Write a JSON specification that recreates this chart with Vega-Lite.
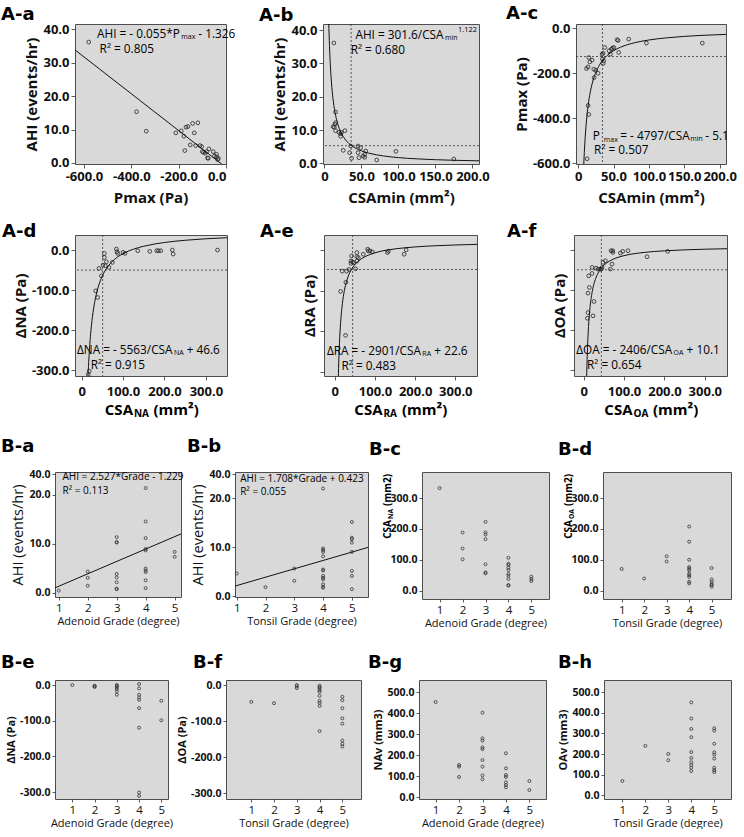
{
"$schema": "https://vega.github.io/schema/vega-lite/v6.json",
"background": "white",
"padding": {"left": 0, "top": 4, "right": 0, "bottom": 0},
"config": {
 "locale": {"number": {"decimal": ".", "thousands": ",", "grouping": [3], "currency": ["$", ""], "minus": "-"}},
 "view": {"fill": "#d9d9d9", "stroke": "#4d4d4d", "strokeWidth": 1},
 "axis": {"grid": false, "domain": false, "tickSize": 4, "tickColor": "#333", "tickWidth": 0.8, "labelFont": "Open Sans", "labelFontWeight": "bold", "labelFontSize": 13, "labelColor": "#111", "titleFont": "Open Sans", "titleFontWeight": "bold", "titleFontSize": 15, "titleColor": "#111", "labelPadding": 2, "titlePadding": 3, "labelOverlap": false},
 "title": {"font": "DejaVu Sans", "fontSize": 18, "fontWeight": "bold", "anchor": "start", "frame": "group", "color": "#000", "baseline": "bottom"},
 "text": {"font": "Open Sans", "fontSize": 11.8, "color": "#000", "baseline": "middle"}
},
"datasets": {
 "aa": [{"x":-580,"y":36.1},{"x":-378,"y":15.3},{"x":-337,"y":9.5},{"x":-212,"y":9.0},{"x":-189,"y":9.6},{"x":-178,"y":8.0},{"x":-174,"y":3.7},{"x":-169,"y":10.7},{"x":-161,"y":10.9},{"x":-151,"y":5.4},{"x":-141,"y":11.8},{"x":-134,"y":9.0},{"x":-128,"y":5.2},{"x":-119,"y":12.0},{"x":-110,"y":5.2},{"x":-103,"y":4.9},{"x":-100,"y":3.4},{"x":-95,"y":3.2},{"x":-88,"y":2.9},{"x":-82,"y":3.4},{"x":-78,"y":1.5},{"x":-75,"y":1.4},{"x":-72,"y":4.2},{"x":-54,"y":3.4},{"x":-49,"y":2.1},{"x":-40,"y":2.6},{"x":-40,"y":1.8},{"x":-35,"y":1.0},{"x":-32,"y":1.4}],
 "aa_fit": [{"x":-638,"y":33.76},{"x":-10,"y":-0.776}],
 "ab": [{"x":12.7,"y":36.1},{"x":15.0,"y":15.4},{"x":15.0,"y":12.2},{"x":14.1,"y":11.7},{"x":11.8,"y":11.0},{"x":13.2,"y":10.8},{"x":15.0,"y":9.8},{"x":19.5,"y":9.3},{"x":21.8,"y":8.9},{"x":23.1,"y":9.3},{"x":21.8,"y":8.1},{"x":27.7,"y":9.8},{"x":25.4,"y":3.9},{"x":34.0,"y":3.2},{"x":35.4,"y":5.2},{"x":36.7,"y":1.5},{"x":45.4,"y":5.2},{"x":49.0,"y":4.7},{"x":45.4,"y":3.2},{"x":46.7,"y":1.7},{"x":52.2,"y":2.2},{"x":54.4,"y":2.7},{"x":55.8,"y":3.7},{"x":54.4,"y":1.8},{"x":70.7,"y":1.0},{"x":96.6,"y":3.6},{"x":175,"y":1.3}],
 "ab_fit": [{"x":5.5,"y":44.5},{"x":6,"y":40.4},{"x":6.5,"y":36.93},{"x":7,"y":33.98},{"x":8,"y":29.25},{"x":9,"y":25.63},{"x":10,"y":22.77},{"x":12,"y":18.56},{"x":15,"y":14.45},{"x":17.5,"y":12.16},{"x":20,"y":10.46},{"x":25,"y":8.15},{"x":30,"y":6.64},{"x":40,"y":4.81},{"x":50,"y":3.74},{"x":60,"y":3.05},{"x":80,"y":2.21},{"x":100,"y":1.72},{"x":125,"y":1.34},{"x":150,"y":1.09},{"x":175,"y":0.92},{"x":209,"y":0.75}],
 "ac": [{"x":12.7,"y":-580.6},{"x":14.1,"y":-343.9},{"x":15.1,"y":-384},{"x":11.8,"y":-180},{"x":14.1,"y":-172.7},{"x":15.1,"y":-131},{"x":16.5,"y":-150.4},{"x":19.8,"y":-142.9},{"x":22.1,"y":-183},{"x":22.6,"y":-220},{"x":24.9,"y":-187.6},{"x":28.2,"y":-201},{"x":33.9,"y":-116},{"x":35.3,"y":-111.7},{"x":34.4,"y":-138},{"x":35.3,"y":-157.8},{"x":36.2,"y":-146},{"x":37.6,"y":-86.3},{"x":43.8,"y":-101},{"x":45.6,"y":-116},{"x":47.1,"y":-93.8},{"x":48.5,"y":-89.3},{"x":50.4,"y":-86.3},{"x":55.1,"y":-52},{"x":56.5,"y":-55},{"x":57.4,"y":-108.7},{"x":71.5,"y":-49},{"x":96.5,"y":-67},{"x":175.5,"y":-67}],
 "ac_fit": [{"x":7.8,"y":-620.1},{"x":8,"y":-604.7},{"x":9,"y":-538.1},{"x":10,"y":-484.8},{"x":11,"y":-441.2},{"x":12,"y":-404.9},{"x":13.5,"y":-360.4},{"x":15,"y":-324.9},{"x":17.5,"y":-279.2},{"x":20,"y":-245.0},{"x":25,"y":-197.0},{"x":30,"y":-165.0},{"x":40,"y":-125.0},{"x":50,"y":-101.0},{"x":60,"y":-85.05},{"x":80,"y":-65.1},{"x":100,"y":-53.1},{"x":125,"y":-43.5},{"x":150,"y":-37.1},{"x":175,"y":-32.5},{"x":209,"y":-28.1}],
 "ad": [{"x":16.1,"y":-310},{"x":18.5,"y":-301.7},{"x":33.9,"y":-101.7},{"x":38.7,"y":-118.3},{"x":41.9,"y":-45.8},{"x":47.6,"y":-64.2},{"x":51.6,"y":-37.5},{"x":54.8,"y":-18.3},{"x":54.8,"y":-8.3},{"x":57.3,"y":-39.2},{"x":59.7,"y":-29.2},{"x":66.1,"y":-43.3},{"x":74.2,"y":-30.8},{"x":83.9,"y":2.5},{"x":85.5,"y":-4.2},{"x":87.1,"y":-8.3},{"x":100,"y":-5.8},{"x":104.8,"y":-8.3},{"x":135.5,"y":-1.7},{"x":164.5,"y":-3.3},{"x":181.5,"y":-1.7},{"x":185.5,"y":-1.7},{"x":191,"y":-1.7},{"x":219,"y":0},{"x":221,"y":-10},{"x":328,"y":0}],
 "ad_fit": [{"x":15,"y":-324.3},{"x":16,"y":-301.1},{"x":18,"y":-262.5},{"x":20,"y":-231.6},{"x":22.5,"y":-200.6},{"x":25,"y":-175.9},{"x":30,"y":-138.8},{"x":35,"y":-112.3},{"x":40,"y":-92.5},{"x":50,"y":-64.7},{"x":60,"y":-46.1},{"x":80,"y":-22.9},{"x":100,"y":-9.0},{"x":125,"y":2.1},{"x":150,"y":9.5},{"x":200,"y":18.8},{"x":250,"y":24.35},{"x":300,"y":28.1},{"x":351,"y":30.75}],
 "ae": [{"x":26.7,"y":-210.5},{"x":14.2,"y":-101.9},{"x":27.5,"y":-79.4},{"x":18.3,"y":-51.8},{"x":29.2,"y":-51.8},{"x":35,"y":-47.6},{"x":40,"y":-32.6},{"x":40,"y":-26.7},{"x":41.7,"y":-14.2},{"x":44.2,"y":-29.2},{"x":47.5,"y":-30.9},{"x":51.7,"y":-46},{"x":55,"y":-26.7},{"x":55,"y":-15.9},{"x":55,"y":-5.8},{"x":58.3,"y":-18.4},{"x":70.8,"y":-10},{"x":81.7,"y":2.5},{"x":83.3,"y":-1.7},{"x":87.5,"y":-1.7},{"x":93.3,"y":-4.2},{"x":130.8,"y":-5.8},{"x":133.3,"y":-2.5},{"x":172.5,"y":-10},{"x":177.5,"y":0.8}],
 "ae_fit": [{"x":8.5,"y":-318.7},{"x":10,"y":-267.5},{"x":12,"y":-219.15},{"x":15,"y":-170.8},{"x":17.5,"y":-143.2},{"x":20,"y":-122.45},{"x":25,"y":-93.44},{"x":30,"y":-74.1},{"x":40,"y":-49.9},{"x":50,"y":-35.4},{"x":60,"y":-25.75},{"x":80,"y":-13.66},{"x":100,"y":-6.41},{"x":150,"y":3.26},{"x":200,"y":8.1},{"x":250,"y":11.0},{"x":300,"y":12.93},{"x":354,"y":14.4}],
 "af": [{"x":9.1,"y":-170},{"x":10.7,"y":-155.8},{"x":23.1,"y":-164},{"x":25.6,"y":-128.3},{"x":10.7,"y":-107.5},{"x":14,"y":-93.3},{"x":12.4,"y":-64.2},{"x":20.7,"y":-58.3},{"x":20.7,"y":-43.3},{"x":30.6,"y":-45},{"x":35.5,"y":-47.5},{"x":41.3,"y":-47.5},{"x":43.8,"y":-47.5},{"x":45.5,"y":-43.3},{"x":47.9,"y":-30.8},{"x":53.7,"y":-26.7},{"x":66.1,"y":-47.5},{"x":70.2,"y":-35},{"x":67.8,"y":-1.7},{"x":72.3,"y":-5.8},{"x":71.9,"y":-1.7},{"x":90.9,"y":-7.5},{"x":96.7,"y":-3.3},{"x":110,"y":-1.7},{"x":157,"y":-16.7},{"x":208,"y":-3.3}],
 "af_fit": [{"x":7.3,"y":-319.5},{"x":8,"y":-290.65},{"x":9,"y":-257.2},{"x":10,"y":-230.5},{"x":12,"y":-190.4},{"x":15,"y":-150.3},{"x":20,"y":-110.2},{"x":25,"y":-86.14},{"x":30,"y":-70.1},{"x":40,"y":-50.05},{"x":50,"y":-38.02},{"x":60,"y":-30.0},{"x":80,"y":-19.98},{"x":100,"y":-13.96},{"x":150,"y":-5.94},{"x":200,"y":-1.93},{"x":250,"y":0.48},{"x":300,"y":2.08},{"x":355,"y":3.32}],
 "ba": [{"g":1,"y":0.4},{"g":2,"y":4.3},{"g":2,"y":3.0},{"g":2,"y":1.4},{"g":3,"y":11.3},{"g":3,"y":10.3},{"g":3,"y":10.2},{"g":3,"y":3.8},{"g":3,"y":3.1},{"g":3,"y":2.1},{"g":3,"y":0.8},{"g":3,"y":0.7},{"g":4,"y":26.3},{"g":4,"y":14.5},{"g":4,"y":11.1},{"g":4,"y":8.9},{"g":4,"y":8.6},{"g":4,"y":4.9},{"g":4,"y":4.5},{"g":4,"y":4.2},{"g":4,"y":2.5},{"g":4,"y":0.9},{"g":5,"y":8.3},{"g":5,"y":7.3}],
 "ba_fit": [{"g":0.87,"y":0.97},{"g":5.22,"y":11.96}],
 "bb": [{"g":1,"y":4.6},{"g":2,"y":1.8},{"g":3,"y":5.6},{"g":3,"y":3.1},{"g":4,"y":28},{"g":4,"y":9.7},{"g":4,"y":9.4},{"g":4,"y":9.0},{"g":4,"y":8.1},{"g":4,"y":5.4},{"g":4,"y":5.2},{"g":4,"y":4.1},{"g":4,"y":3.7},{"g":4,"y":3.4},{"g":4,"y":2.4},{"g":4,"y":1.9},{"g":4,"y":1.7},{"g":5,"y":15.1},{"g":5,"y":11.9},{"g":5,"y":11.6},{"g":5,"y":10.9},{"g":5,"y":9.0},{"g":5,"y":5.1},{"g":5,"y":4.1},{"g":5,"y":1.4}],
 "bb_fit": [{"g":0.94,"y":2.03},{"g":5.56,"y":9.92}],
 "bc": [{"g":1,"y":332},{"g":2,"y":188.6},{"g":2,"y":137},{"g":2,"y":102},{"g":3,"y":223},{"g":3,"y":189},{"g":3,"y":182},{"g":3,"y":167},{"g":3,"y":86},{"g":3,"y":60},{"g":3,"y":57},{"g":4,"y":107},{"g":4,"y":88},{"g":4,"y":84},{"g":4,"y":75},{"g":4,"y":67.5},{"g":4,"y":55},{"g":4,"y":49},{"g":4,"y":38.6},{"g":4,"y":19.3},{"g":4,"y":17},{"g":5,"y":46},{"g":5,"y":38.6},{"g":5,"y":32}],
 "bd": [{"g":1,"y":71},{"g":2,"y":40},{"g":3,"y":112},{"g":3,"y":95},{"g":4,"y":208},{"g":4,"y":159},{"g":4,"y":100.7},{"g":4,"y":77},{"g":4,"y":72},{"g":4,"y":67},{"g":4,"y":56},{"g":4,"y":51},{"g":4,"y":45.6},{"g":4,"y":29.7},{"g":4,"y":24.4},{"g":5,"y":74},{"g":5,"y":37},{"g":5,"y":29.7},{"g":5,"y":22},{"g":5,"y":19},{"g":5,"y":13.8}],
 "be": [{"g":1,"y":0},{"g":2,"y":-1.9},{"g":2,"y":-3.8},{"g":2,"y":-5.6},{"g":3,"y":0},{"g":3,"y":-2.8},{"g":3,"y":-6.6},{"g":3,"y":-11.3},{"g":3,"y":-17.9},{"g":3,"y":-27.3},{"g":4,"y":2.8},{"g":4,"y":-9.4},{"g":4,"y":-27.3},{"g":4,"y":-34.8},{"g":4,"y":-41.4},{"g":4,"y":-64.9},{"g":4,"y":-119.5},{"g":4,"y":-301},{"g":4,"y":-310.4},{"g":5,"y":-44.2},{"g":5,"y":-98.8}],
 "bf": [{"g":1,"y":-46.6},{"g":2,"y":-50.3},{"g":3,"y":0},{"g":3,"y":-3.7},{"g":3,"y":-8.4},{"g":4,"y":-1.9},{"g":4,"y":-5.6},{"g":4,"y":-9.3},{"g":4,"y":-14},{"g":4,"y":-18.6},{"g":4,"y":-29.8},{"g":4,"y":-43.8},{"g":4,"y":-49.4},{"g":4,"y":-57.8},{"g":4,"y":-127.7},{"g":5,"y":-32.6},{"g":5,"y":-42},{"g":5,"y":-64.3},{"g":5,"y":-92.3},{"g":5,"y":-107.2},{"g":5,"y":-153.8},{"g":5,"y":-163},{"g":5,"y":-170.5}],
 "bg": [{"g":1,"y":452.5},{"g":2,"y":153.5},{"g":2,"y":145.6},{"g":2,"y":96.5},{"g":3,"y":402},{"g":3,"y":280},{"g":3,"y":269},{"g":3,"y":237},{"g":3,"y":229},{"g":3,"y":177},{"g":3,"y":145.6},{"g":3,"y":104},{"g":3,"y":85},{"g":4,"y":209},{"g":4,"y":137.7},{"g":4,"y":106},{"g":4,"y":96.5},{"g":4,"y":71},{"g":4,"y":58.5},{"g":4,"y":47.5},{"g":5,"y":77.5},{"g":5,"y":34.8}],
 "bh": [{"g":1,"y":70},{"g":2,"y":240},{"g":3,"y":200.6},{"g":3,"y":170},{"g":4,"y":450.6},{"g":4,"y":372.6},{"g":4,"y":321.7},{"g":4,"y":281.8},{"g":4,"y":210},{"g":4,"y":181.5},{"g":4,"y":160.8},{"g":4,"y":146.5},{"g":4,"y":133.8},{"g":4,"y":117.8},{"g":5,"y":324.8},{"g":5,"y":313.7},{"g":5,"y":250},{"g":5,"y":208.6},{"g":5,"y":197.5},{"g":5,"y":178.3},{"g":5,"y":133.8},{"g":5,"y":122.6},{"g":5,"y":113}]
},
"vconcat": [
 {"vconcat": [
  {"hconcat": [
   {"width": 20, "height": 10, "view": {"stroke": null, "fill": null}, "data": {"values": []}, "mark": {"type": "point"}},
   {"hconcat": [
   {"width": 151, "height": 140, "title": {"text": "A-a", "dx": -74, "offset": -1},
    "resolve": {"axis": {"x": "independent", "y": "independent"}},
    "layer": [
     {"data": {"name": "aa"}, "mark": {"type": "point", "shape": "circle", "filled": false, "size": 14, "color": "#222", "strokeWidth": 0.8, "opacity": 1},
      "encoding": {"x": {"field": "x", "type": "quantitative", "scale": {"domain": [-638, 0], "nice": false, "zero": false}, "axis": {"title": "Pmax (Pa)", "values": [-600, -400, -200, 0], "format": ".1f", "titlePadding": 7, "labelOverlap": false}},
                   "y": {"field": "y", "type": "quantitative", "scale": {"domain": [-0.3, 41.5], "nice": false, "zero": false}, "axis": {"title": "AHI (events/hr)", "values": [0, 10, 20, 30, 40], "format": ".1f", "labelOverlap": false}}}},
     {"data": {"name": "aa_fit"}, "mark": {"type": "line", "color": "#111", "strokeWidth": 1, "clip": true}, "encoding": {"x": {"field": "x", "type": "quantitative", "axis": null}, "y": {"field": "y", "type": "quantitative", "axis": null}}},
     {"data": {"values": [{}]}, "encoding": {"x": {"datum": -195, "axis": null}, "y": {"datum": 38.4, "axis": null}}, "layer": [
       {"mark": {"type": "text", "align": "right", "text": "AHI = - 0.055*P"}},
       {"mark": {"type": "text", "align": "left", "fontSize": 7, "dx": 1.5, "dy": 3, "text": "max"}},
       {"mark": {"type": "text", "align": "left", "dx": 18.5, "text": "- 1.326"}}]},
     {"data": {"values": [{}]}, "mark": {"type": "text", "align": "left", "text": "R² = 0.805"}, "encoding": {"x": {"datum": -534, "axis": null}, "y": {"datum": 34.1, "axis": null}}}
    ]},
   {"width": 156, "height": 140, "title": {"text": "A-b", "dx": -64, "offset": -1},
    "resolve": {"axis": {"x": "independent", "y": "independent"}},
    "layer": [
     {"data": {"name": "ab"}, "mark": {"type": "point", "shape": "circle", "filled": false, "size": 14, "color": "#222", "strokeWidth": 0.8, "opacity": 1},
      "encoding": {"x": {"field": "x", "type": "quantitative", "scale": {"domain": [-2, 209], "nice": false, "zero": false}, "axis": {"title": "CSAmin (mm²)", "values": [0, 50, 100, 150, 200], "labelExpr": "datum.value == 0 ? '0' : format(datum.value, '.1f')", "titlePadding": 7, "labelOverlap": false}},
                   "y": {"field": "y", "type": "quantitative", "scale": {"domain": [-0.2, 41.8], "nice": false, "zero": false}, "axis": {"title": "AHI (events/hr)", "values": [0, 10, 20, 30, 40], "format": ".1f", "labelOverlap": false}}}},
     {"data": {"values": [{}]}, "mark": {"type": "rule", "color": "#333", "strokeWidth": 0.8, "strokeDash": [2, 2]}, "encoding": {"x": {"datum": 36, "axis": null}}},
     {"data": {"values": [{}]}, "mark": {"type": "rule", "color": "#333", "strokeWidth": 0.8, "strokeDash": [2, 2]}, "encoding": {"y": {"datum": 5.3, "axis": null}}},
     {"data": {"name": "ab_fit"}, "mark": {"type": "line", "color": "#111", "strokeWidth": 1, "clip": true, "interpolate": "monotone"}, "encoding": {"x": {"field": "x", "type": "quantitative", "axis": null}, "y": {"field": "y", "type": "quantitative", "axis": null}}},
     {"data": {"values": [{}]}, "encoding": {"x": {"datum": 161, "axis": null}, "y": {"datum": 38.6, "axis": null}}, "layer": [
       {"mark": {"type": "text", "align": "right", "text": "AHI = 301.6/CSA"}},
       {"mark": {"type": "text", "align": "left", "fontSize": 7, "dx": 1.5, "dy": 3, "text": "min"}},
       {"mark": {"type": "text", "align": "left", "fontSize": 7.5, "dx": 14.5, "dy": -5, "text": "1.122"}}]},
     {"data": {"values": [{}]}, "mark": {"type": "text", "align": "left", "text": "R² = 0.680"}, "encoding": {"x": {"datum": 35.4, "axis": null}, "y": {"datum": 34.1, "axis": null}}}
    ]},
   {"width": 150, "height": 140, "title": {"text": "A-c", "dx": -70, "offset": -1},
    "resolve": {"axis": {"x": "independent", "y": "independent"}},
    "layer": [
     {"data": {"name": "ac"}, "mark": {"type": "point", "shape": "circle", "filled": false, "size": 14, "color": "#222", "strokeWidth": 0.8, "opacity": 1},
      "encoding": {"x": {"field": "x", "type": "quantitative", "scale": {"domain": [-3, 209], "nice": false, "zero": false}, "axis": {"title": "CSAmin (mm²)", "values": [0, 50, 100, 150, 200], "labelExpr": "datum.value == 0 ? '0' : format(datum.value, '.1f')", "titlePadding": 7, "labelOverlap": false}},
                   "y": {"field": "y", "type": "quantitative", "scale": {"domain": [-604, 18], "nice": false, "zero": false}, "axis": {"title": "Pmax (Pa)", "values": [0, -200, -400, -600], "format": ".1f", "labelOverlap": false}}}},
     {"data": {"values": [{}]}, "mark": {"type": "rule", "color": "#333", "strokeWidth": 0.8, "strokeDash": [2, 2]}, "encoding": {"x": {"datum": 34.4, "axis": null}}},
     {"data": {"values": [{}]}, "mark": {"type": "rule", "color": "#333", "strokeWidth": 0.8, "strokeDash": [2, 2]}, "encoding": {"y": {"datum": -126.5, "axis": null}}},
     {"data": {"name": "ac_fit"}, "mark": {"type": "line", "color": "#111", "strokeWidth": 1, "clip": true, "interpolate": "monotone"}, "encoding": {"x": {"field": "x", "type": "quantitative", "axis": null}, "y": {"field": "y", "type": "quantitative", "axis": null}}},
     {"data": {"values": [{}]}, "encoding": {"x": {"datum": 30.6, "axis": null}, "y": {"datum": -480.9, "axis": null}}, "layer": [
       {"mark": {"type": "text", "align": "right", "text": "P"}},
       {"mark": {"type": "text", "align": "left", "fontSize": 7, "dx": 4, "dy": 3.5, "text": "max"}},
       {"mark": {"type": "text", "align": "left", "dx": 20.5, "text": "= - 4797/CSA"}},
       {"mark": {"type": "text", "align": "left", "fontSize": 7, "dx": 90.5, "dy": 3, "text": "min"}},
       {"mark": {"type": "text", "align": "left", "dx": 105.5, "text": "- 5.1"}}]},
     {"data": {"values": [{}]}, "mark": {"type": "text", "align": "left", "text": "R² = 0.507"}, "encoding": {"x": {"datum": 22.6, "axis": null}, "y": {"datum": -540.4, "axis": null}}}
    ]}
   ], "spacing": 97, "bounds": "flush"}
  ], "spacing": 0, "bounds": "flush"},
  {"hconcat": [
   {"width": 20, "height": 10, "view": {"stroke": null, "fill": null}, "data": {"values": []}, "mark": {"type": "point"}},
   {"hconcat": [
   {"width": 152, "height": 141, "title": {"text": "A-d", "dx": -73, "offset": -6},
    "resolve": {"axis": {"x": "independent", "y": "independent"}},
    "layer": [
     {"data": {"name": "ad"}, "mark": {"type": "point", "shape": "circle", "filled": false, "size": 14, "color": "#222", "strokeWidth": 0.8, "opacity": 1},
      "encoding": {"x": {"field": "x", "type": "quantitative", "scale": {"domain": [-16, 351], "nice": false, "zero": false}, "axis": {"title": null, "values": [0, 100, 200, 300], "labelExpr": "datum.value == 0 ? '0' : format(datum.value, '.1f')", "labelPadding": 5, "labelOverlap": false}},
                   "y": {"field": "y", "type": "quantitative", "scale": {"domain": [-314, 37.5], "nice": false, "zero": false}, "axis": {"title": "ΔNA (Pa)", "values": [0, -100, -200, -300], "format": ".1f", "labelOverlap": false}}}},
     {"data": {"values": [{}]}, "mark": {"type": "rule", "color": "#333", "strokeWidth": 0.8, "strokeDash": [2, 2]}, "encoding": {"x": {"datum": 50.8, "axis": null}}},
     {"data": {"values": [{}]}, "mark": {"type": "rule", "color": "#333", "strokeWidth": 0.8, "strokeDash": [2, 2]}, "encoding": {"y": {"datum": -50, "axis": null}}},
     {"data": {"name": "ad_fit"}, "mark": {"type": "line", "color": "#111", "strokeWidth": 1, "clip": true, "interpolate": "monotone"}, "encoding": {"x": {"field": "x", "type": "quantitative", "axis": null}, "y": {"field": "y", "type": "quantitative", "axis": null}}},
     {"data": {"values": [{}]}, "encoding": {"x": {"datum": 219.4, "axis": null}, "y": {"datum": -250, "axis": null}}, "layer": [
       {"mark": {"type": "text", "align": "right", "text": "ΔNA = - 5563/CSA"}},
       {"mark": {"type": "text", "align": "left", "fontSize": 7, "dx": 1.5, "dy": 3, "text": "NA"}},
       {"mark": {"type": "text", "align": "left", "dx": 14.2, "text": "+ 46.6"}}]},
     {"data": {"values": [{}]}, "mark": {"type": "text", "align": "left", "text": "R² = 0.915"}, "encoding": {"x": {"datum": 21.8, "axis": null}, "y": {"datum": -286.7, "axis": null}}},
     {"data": {"values": [{}]}, "encoding": {"x": {"datum": 124, "axis": null}, "y": {"datum": -314, "axis": null}}, "layer": [
       {"mark": {"type": "text", "align": "right", "dy": 34, "fontSize": 15, "fontWeight": "bold", "text": "CSA"}},
       {"mark": {"type": "text", "align": "left", "dx": 1, "dy": 38, "fontSize": 10, "fontWeight": "bold", "text": "NA"}},
       {"mark": {"type": "text", "align": "left", "dy": 34, "dx": 20.5, "fontSize": 15, "fontWeight": "bold", "text": "(mm²)"}}]}
    ]},
   {"width": 153, "height": 141, "title": {"text": "A-e", "dx": -64, "offset": -6},
    "resolve": {"axis": {"x": "independent", "y": "independent"}},
    "layer": [
     {"data": {"name": "ae"}, "mark": {"type": "point", "shape": "circle", "filled": false, "size": 14, "color": "#222", "strokeWidth": 0.8, "opacity": 1},
      "encoding": {"x": {"field": "x", "type": "quantitative", "scale": {"domain": [-27, 354], "nice": false, "zero": false}, "axis": {"title": null, "values": [0, 100, 200, 300], "labelExpr": "datum.value == 0 ? '0' : format(datum.value, '.1f')", "labelPadding": 5, "labelOverlap": false}},
                   "y": {"field": "y", "type": "quantitative", "scale": {"domain": [-311, 37.6], "nice": false, "zero": false}, "axis": {"title": "ΔRA (Pa)", "values": [0, -100, -200, -300], "labels": false, "titlePadding": 2}}}},
     {"data": {"values": [{}]}, "mark": {"type": "rule", "color": "#333", "strokeWidth": 0.8, "strokeDash": [2, 2]}, "encoding": {"x": {"datum": 44.3, "axis": null}}},
     {"data": {"values": [{}]}, "mark": {"type": "rule", "color": "#333", "strokeWidth": 0.8, "strokeDash": [2, 2]}, "encoding": {"y": {"datum": -47.6, "axis": null}}},
     {"data": {"name": "ae_fit"}, "mark": {"type": "line", "color": "#111", "strokeWidth": 1, "clip": true, "interpolate": "monotone"}, "encoding": {"x": {"field": "x", "type": "quantitative", "axis": null}, "y": {"field": "y", "type": "quantitative", "axis": null}}},
     {"data": {"values": [{}]}, "encoding": {"x": {"datum": 214.2, "axis": null}, "y": {"datum": -249.8, "axis": null}}, "layer": [
       {"mark": {"type": "text", "align": "right", "text": "ΔRA = - 2901/CSA"}},
       {"mark": {"type": "text", "align": "left", "fontSize": 7, "dx": 1.5, "dy": 3, "text": "RA"}},
       {"mark": {"type": "text", "align": "left", "dx": 13.5, "text": "+ 22.6"}}]},
     {"data": {"values": [{}]}, "mark": {"type": "text", "align": "left", "text": "R² = 0.483"}, "encoding": {"x": {"datum": 16.7, "axis": null}, "y": {"datum": -285.7, "axis": null}}},
     {"data": {"values": [{}]}, "encoding": {"x": {"datum": 118.7, "axis": null}, "y": {"datum": -311, "axis": null}}, "layer": [
       {"mark": {"type": "text", "align": "right", "dy": 34, "fontSize": 15, "fontWeight": "bold", "text": "CSA"}},
       {"mark": {"type": "text", "align": "left", "dx": 1, "dy": 38, "fontSize": 10, "fontWeight": "bold", "text": "RA"}},
       {"mark": {"type": "text", "align": "left", "dy": 34, "dx": 19.5, "fontSize": 15, "fontWeight": "bold", "text": "(mm²)"}}]}
    ]},
   {"width": 153, "height": 141, "title": {"text": "A-f", "dx": -67, "offset": -6},
    "resolve": {"axis": {"x": "independent", "y": "independent"}},
    "layer": [
     {"data": {"name": "af"}, "mark": {"type": "point", "shape": "circle", "filled": false, "size": 14, "color": "#222", "strokeWidth": 0.8, "opacity": 1},
      "encoding": {"x": {"field": "x", "type": "quantitative", "scale": {"domain": [-24, 355], "nice": false, "zero": false}, "axis": {"title": null, "values": [0, 100, 200, 300], "labelExpr": "datum.value == 0 ? '0' : format(datum.value, '.1f')", "labelPadding": 5, "labelOverlap": false}},
                   "y": {"field": "y", "type": "quantitative", "scale": {"domain": [-314, 37.5], "nice": false, "zero": false}, "axis": {"title": "ΔOA (Pa)", "values": [0, -100, -200, -300], "labels": false, "titlePadding": 2}}}},
     {"data": {"values": [{}]}, "mark": {"type": "rule", "color": "#333", "strokeWidth": 0.8, "strokeDash": [2, 2]}, "encoding": {"x": {"datum": 43.8, "axis": null}}},
     {"data": {"values": [{}]}, "mark": {"type": "rule", "color": "#333", "strokeWidth": 0.8, "strokeDash": [2, 2]}, "encoding": {"y": {"datum": -49.2, "axis": null}}},
     {"data": {"name": "af_fit"}, "mark": {"type": "line", "color": "#111", "strokeWidth": 1, "clip": true, "interpolate": "monotone"}, "encoding": {"x": {"field": "x", "type": "quantitative", "axis": null}, "y": {"field": "y", "type": "quantitative", "axis": null}}},
     {"data": {"values": [{}]}, "encoding": {"x": {"datum": 219, "axis": null}, "y": {"datum": -249.2, "axis": null}}, "layer": [
       {"mark": {"type": "text", "align": "right", "text": "ΔOA  = - 2406/CSA"}},
       {"mark": {"type": "text", "align": "left", "fontSize": 7, "dx": 1.5, "dy": 3, "text": "OA"}},
       {"mark": {"type": "text", "align": "left", "dx": 14.5, "text": "+ 10.1"}}]},
     {"data": {"values": [{}]}, "mark": {"type": "text", "align": "left", "text": "R² = 0.654"}, "encoding": {"x": {"datum": 8.3, "axis": null}, "y": {"datum": -286.7, "axis": null}}},
     {"data": {"values": [{}]}, "encoding": {"x": {"datum": 121, "axis": null}, "y": {"datum": -314, "axis": null}}, "layer": [
       {"mark": {"type": "text", "align": "right", "dy": 34, "fontSize": 15, "fontWeight": "bold", "text": "CSA"}},
       {"mark": {"type": "text", "align": "left", "dx": 1, "dy": 38, "fontSize": 10, "fontWeight": "bold", "text": "OA"}},
       {"mark": {"type": "text", "align": "left", "dy": 34, "dx": 20.5, "fontSize": 15, "fontWeight": "bold", "text": "(mm²)"}}]}
    ]}
   ], "spacing": 97, "bounds": "flush"}
  ], "spacing": 0, "bounds": "flush"}
 ], "spacing": 16},
 {"vconcat": [
  {"hconcat": [
   {"width": 126, "height": 125, "title": {"text": "B-a", "dx": -54, "offset": 13},
    "resolve": {"axis": {"x": "independent", "y": "independent"}},
    "layer": [
     {"data": {"name": "ba"}, "mark": {"type": "point", "shape": "circle", "filled": false, "size": 9, "color": "#333", "strokeWidth": 0.8, "opacity": 1},
      "encoding": {"x": {"field": "g", "type": "quantitative", "scale": {"domain": [0.87, 5.22], "nice": false, "zero": false}, "axis": {"title": "Adenoid Grade (degree)", "values": [1, 2, 3, 4, 5], "format": "d", "labelOverlap": false, "labelFontWeight": "normal", "labelFontSize": 11.5, "titleFontWeight": "normal", "titleFontSize": 11, "tickSize": 3, "labelPadding": 2, "titlePadding": 2}},
                   "y": {"field": "y", "type": "quantitative", "scale": {"domain": [-0.9, 20, 42], "range": [125, 22.5, 0], "nice": false, "zero": false}, "axis": {"title": "AHI (events/hr)", "values": [0, 10, 20, 40], "format": ".1f", "labelOverlap": false, "labelFontSize": 10.5, "titleFontWeight": "normal", "titleFontSize": 14.5, "tickSize": 3}}}},
     {"data": {"name": "ba_fit"}, "mark": {"type": "line", "color": "#111", "strokeWidth": 1, "clip": true}, "encoding": {"x": {"field": "g", "type": "quantitative", "axis": null}, "y": {"field": "y", "type": "quantitative", "axis": null}}},
     {"data": {"values": [{}]}, "mark": {"type": "text", "align": "left", "fontSize": 10, "text": "AHI = 2.527*Grade - 1.229"}, "encoding": {"x": {"datum": 1.13, "axis": null}, "y": {"datum": 36.7, "axis": null}}},
     {"data": {"values": [{}]}, "mark": {"type": "text", "align": "left", "fontSize": 10, "text": "R² = 0.113"}, "encoding": {"x": {"datum": 1.13, "axis": null}, "y": {"datum": 23.3, "axis": null}}}
    ]},
   {"width": 133, "height": 125, "title": {"text": "B-b", "dx": -48, "offset": 13},
    "resolve": {"axis": {"x": "independent", "y": "independent"}},
    "layer": [
     {"data": {"name": "bb"}, "mark": {"type": "point", "shape": "circle", "filled": false, "size": 9, "color": "#333", "strokeWidth": 0.8, "opacity": 1},
      "encoding": {"x": {"field": "g", "type": "quantitative", "scale": {"domain": [0.94, 5.56], "nice": false, "zero": false}, "axis": {"title": "Tonsil Grade (degree)", "values": [1, 2, 3, 4, 5], "format": "d", "labelOverlap": false, "labelFontWeight": "normal", "labelFontSize": 11.5, "titleFontWeight": "normal", "titleFontSize": 11, "tickSize": 3, "labelPadding": 2, "titlePadding": 2}},
                   "y": {"field": "y", "type": "quantitative", "scale": {"domain": [-0.2, 20, 42], "range": [125, 26, 0], "nice": false, "zero": false}, "axis": {"title": "AHI (events/hr)", "values": [0, 10, 20, 40], "format": ".1f", "labelOverlap": false, "labelFontSize": 10.5, "titleFontWeight": "normal", "titleFontSize": 14.5, "tickSize": 3}}}},
     {"data": {"name": "bb_fit"}, "mark": {"type": "line", "color": "#111", "strokeWidth": 1, "clip": true}, "encoding": {"x": {"field": "g", "type": "quantitative", "axis": null}, "y": {"field": "y", "type": "quantitative", "axis": null}}},
     {"data": {"values": [{}]}, "mark": {"type": "text", "align": "left", "fontSize": 10, "text": "AHI = 1.708*Grade + 0.423"}, "encoding": {"x": {"datum": 1.12, "axis": null}, "y": {"datum": 36.3, "axis": null}}},
     {"data": {"values": [{}]}, "mark": {"type": "text", "align": "left", "fontSize": 10, "text": "R² = 0.055"}, "encoding": {"x": {"datum": 1.12, "axis": null}, "y": {"datum": 25.5, "axis": null}}}
    ]},
   {"width": 127, "height": 127, "title": {"text": "B-c", "dx": -53, "offset": 13},
    "resolve": {"axis": {"x": "independent", "y": "independent"}},
    "layer": [
     {"data": {"name": "bc"}, "mark": {"type": "point", "shape": "circle", "filled": false, "size": 9, "color": "#333", "strokeWidth": 0.8, "opacity": 1},
      "encoding": {"x": {"field": "g", "type": "quantitative", "scale": {"domain": [0.23, 5.77], "nice": false, "zero": false}, "axis": {"title": "Adenoid Grade (degree)", "values": [1, 2, 3, 4, 5], "format": "d", "labelOverlap": false, "labelFontWeight": "normal", "labelFontSize": 11.5, "titleFontWeight": "normal", "titleFontSize": 11, "tickSize": 3, "labelPadding": 2, "titlePadding": 2}},
                   "y": {"field": "y", "type": "quantitative", "scale": {"domain": [-26, 384], "nice": false, "zero": false}, "axis": {"title": null, "values": [0, 100, 200, 300], "format": ".1f", "labelOverlap": false, "labelFontSize": 10.5, "tickSize": 3}}}},
     {"data": {"values": [{}]}, "encoding": {"x": {"datum": 0.23, "axis": null}, "y": {"datum": 229, "axis": null}}, "layer": [
       {"mark": {"type": "text", "angle": 270, "align": "right", "dy": -34, "fontSize": 10, "fontWeight": "bold", "text": "CSA"}},
       {"mark": {"type": "text", "angle": 270, "align": "left", "dx": 1, "dy": -31, "fontSize": 6.7, "fontWeight": "bold", "text": "NA"}},
       {"mark": {"type": "text", "angle": 270, "align": "left", "dy": -34, "dx": 14, "fontSize": 10, "fontWeight": "bold", "text": "(mm2)"}}]}
    ]},
   {"width": 128, "height": 127, "title": {"text": "B-d", "dx": -45, "offset": 13},
    "resolve": {"axis": {"x": "independent", "y": "independent"}},
    "layer": [
     {"data": {"name": "bd"}, "mark": {"type": "point", "shape": "circle", "filled": false, "size": 9, "color": "#333", "strokeWidth": 0.8, "opacity": 1},
      "encoding": {"x": {"field": "g", "type": "quantitative", "scale": {"domain": [0.17, 5.86], "nice": false, "zero": false}, "axis": {"title": "Tonsil Grade (degree)", "values": [1, 2, 3, 4, 5], "format": "d", "labelOverlap": false, "labelFontWeight": "normal", "labelFontSize": 11.5, "titleFontWeight": "normal", "titleFontSize": 11, "tickSize": 3, "labelPadding": 2, "titlePadding": 2}},
                   "y": {"field": "y", "type": "quantitative", "scale": {"domain": [-26, 384], "nice": false, "zero": false}, "axis": {"title": null, "values": [0, 100, 200, 300], "format": ".1f", "labelOverlap": false, "labelFontSize": 10.5, "tickSize": 3}}}},
     {"data": {"values": [{}]}, "encoding": {"x": {"datum": 0.17, "axis": null}, "y": {"datum": 229, "axis": null}}, "layer": [
       {"mark": {"type": "text", "angle": 270, "align": "right", "dy": -34, "fontSize": 10, "fontWeight": "bold", "text": "CSA"}},
       {"mark": {"type": "text", "angle": 270, "align": "left", "dx": 1, "dy": -31, "fontSize": 6.7, "fontWeight": "bold", "text": "OA"}},
       {"mark": {"type": "text", "angle": 270, "align": "left", "dy": -34, "dx": 14, "fontSize": 10, "fontWeight": "bold", "text": "(mm2)"}}]}
    ]}
  ], "spacing": 54, "bounds": "flush"},
  {"hconcat": [
   {"width": 113, "height": 119, "title": {"text": "B-e", "dx": -54, "offset": 8},
    "layer": [
     {"data": {"name": "be"}, "mark": {"type": "point", "shape": "circle", "filled": false, "size": 9, "color": "#333", "strokeWidth": 0.8, "opacity": 1},
      "encoding": {"x": {"field": "g", "type": "quantitative", "scale": {"domain": [0.22, 5.3], "nice": false, "zero": false}, "axis": {"title": "Adenoid Grade (degree)", "values": [1, 2, 3, 4, 5], "format": "d", "labelFontWeight": "normal", "labelFontSize": 11.5, "titleFontWeight": "normal", "titleFontSize": 11, "tickSize": 3, "labelPadding": 2, "titlePadding": 2}},
                   "y": {"field": "y", "type": "quantitative", "scale": {"domain": [-319, 14], "nice": false, "zero": false}, "axis": {"title": "ΔNA (Pa)", "values": [0, -100, -200, -300], "format": ".1f", "labelFontSize": 10.5, "titleFontSize": 11, "tickSize": 3}}}}
    ]},
   {"width": 135, "height": 119, "title": {"text": "B-f", "dx": -33, "offset": 8},
    "layer": [
     {"data": {"name": "bf"}, "mark": {"type": "point", "shape": "circle", "filled": false, "size": 9, "color": "#333", "strokeWidth": 0.8, "opacity": 1},
      "encoding": {"x": {"field": "g", "type": "quantitative", "scale": {"domain": [-0.11, 5.82], "nice": false, "zero": false}, "axis": {"title": "Tonsil Grade (degree)", "values": [1, 2, 3, 4, 5], "format": "d", "labelFontWeight": "normal", "labelFontSize": 11.5, "titleFontWeight": "normal", "titleFontSize": 11, "tickSize": 3, "labelPadding": 2, "titlePadding": 2}},
                   "y": {"field": "y", "type": "quantitative", "scale": {"domain": [-316, 14], "nice": false, "zero": false}, "axis": {"title": "ΔOA (Pa)", "values": [0, -100, -200, -300], "format": ".1f", "labelFontSize": 10.5, "titleFontSize": 11, "tickSize": 3}}}}
    ]},
   {"width": 127, "height": 119, "title": {"text": "B-g", "dx": -51, "offset": 8},
    "layer": [
     {"data": {"name": "bg"}, "mark": {"type": "point", "shape": "circle", "filled": false, "size": 9, "color": "#333", "strokeWidth": 0.8, "opacity": 1},
      "encoding": {"x": {"field": "g", "type": "quantitative", "scale": {"domain": [0.29, 5.71], "nice": false, "zero": false}, "axis": {"title": "Adenoid Grade (degree)", "values": [1, 2, 3, 4, 5], "format": "d", "labelFontWeight": "normal", "labelFontSize": 11.5, "titleFontWeight": "normal", "titleFontSize": 11, "tickSize": 3, "labelPadding": 2, "titlePadding": 2}},
                   "y": {"field": "y", "type": "quantitative", "scale": {"domain": [-8, 557], "nice": false, "zero": false}, "axis": {"title": "NAv (mm3)", "values": [0, 100, 200, 300, 400, 500], "format": ".1f", "labelFontSize": 10.5, "titleFontSize": 11, "tickSize": 3}}}}
    ]},
   {"width": 127, "height": 119, "title": {"text": "B-h", "dx": -46, "offset": 8},
    "layer": [
     {"data": {"name": "bh"}, "mark": {"type": "point", "shape": "circle", "filled": false, "size": 9, "color": "#333", "strokeWidth": 0.8, "opacity": 1},
      "encoding": {"x": {"field": "g", "type": "quantitative", "scale": {"domain": [0.2, 5.73], "nice": false, "zero": false}, "axis": {"title": "Tonsil Grade (degree)", "values": [1, 2, 3, 4, 5], "format": "d", "labelFontWeight": "normal", "labelFontSize": 11.5, "titleFontWeight": "normal", "titleFontSize": 11, "tickSize": 3, "labelPadding": 2, "titlePadding": 2}},
                   "y": {"field": "y", "type": "quantitative", "scale": {"domain": [-17.5, 559], "nice": false, "zero": false}, "axis": {"title": "OAv (mm3)", "values": [0, 100, 200, 300, 400, 500], "format": ".1f", "labelFontSize": 10.5, "titleFontSize": 11, "tickSize": 3}}}}
    ]}
  ], "spacing": 58, "bounds": "flush"}
 ], "spacing": 24}
],
"spacing": 17
}
